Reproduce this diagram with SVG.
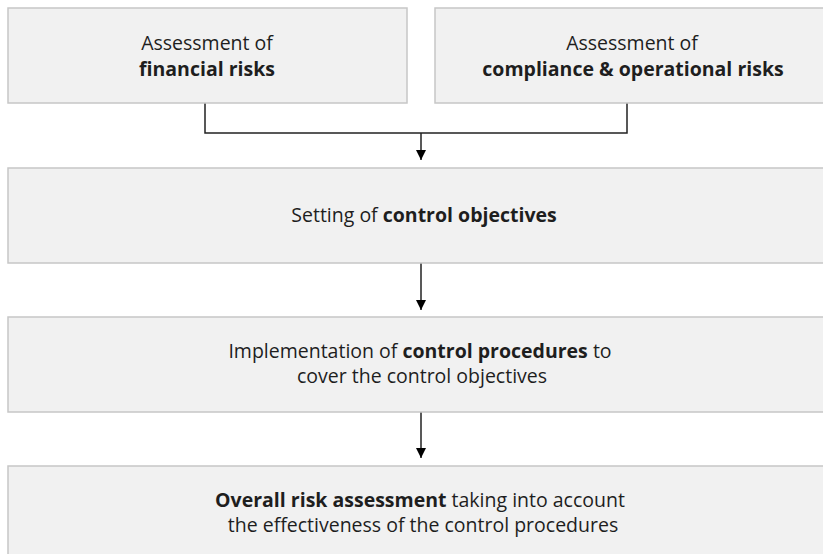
<svg xmlns="http://www.w3.org/2000/svg" width="823" height="554" viewBox="0 0 823 554">
<defs>
<style>
.box{fill:#f1f1f1;stroke:#c6c6c6;stroke-width:1.5}
.t{font-family:"Open Sans","Liberation Sans",sans-serif;font-size:19.5px;fill:#1e1e1e;text-anchor:middle}
.b{font-weight:bold}
.ln{fill:none;stroke:#222;stroke-width:1.5}
</style>
<marker id="ah" viewBox="0 0 10 10" refX="10" refY="5" markerWidth="10" markerHeight="10" markerUnits="userSpaceOnUse" orient="auto">
<path d="M0,0 L10,5 L0,10 Z" fill="#000"/>
</marker>
</defs>
<rect width="823" height="554" fill="#fff"/>
<g id="connectors">
<path class="ln" d="M205,103 V133 H627 V103"/>
<path class="ln" d="M421,133 V160" marker-end="url(#ah)"/>
<path class="ln" d="M421,263 V310" marker-end="url(#ah)"/>
<path class="ln" d="M421,412 V458" marker-end="url(#ah)"/>
</g>
<g id="node-financial">
<rect class="box" x="8" y="8" width="399" height="95"/>
<text class="t" x="207" y="50">Assessment of</text>
<text class="t b" x="207" y="76">financial risks</text>
</g>
<g id="node-compliance">
<rect class="box" x="435" y="8" width="400" height="95"/>
<text class="t" x="632" y="50">Assessment of</text>
<text class="t b" x="633" y="76">compliance &amp; operational risks</text>
</g>
<g id="node-objectives">
<rect class="box" x="8" y="168" width="832" height="95"/>
<text class="t" x="424" y="222">Setting of <tspan class="b">control objectives</tspan></text>
</g>
<g id="node-procedures">
<rect class="box" x="8" y="317" width="832" height="95"/>
<text class="t" x="420" y="358">Implementation of <tspan class="b">control procedures</tspan> to</text>
<text class="t" x="422" y="383">cover the control objectives</text>
</g>
<g id="node-overall">
<rect class="box" x="8" y="466" width="832" height="95"/>
<text class="t" x="420" y="507"><tspan class="b">Overall risk assessment</tspan> taking into account</text>
<text class="t" x="423" y="532">the effectiveness of the control procedures</text>
</g>
</svg>
